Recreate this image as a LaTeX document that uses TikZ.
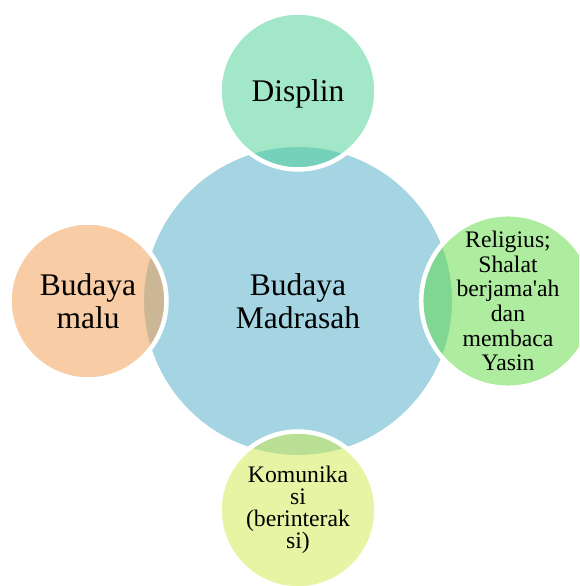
\documentclass[tikz,border=0pt]{standalone}
\usepackage{fontspec}
\setmainfont{Liberation Serif}[Ligatures=TeXOff]
\definecolor{hubblue}{RGB}{165,213,226}
\definecolor{topc}{RGB}{71,207,147}
\definecolor{leftc}{RGB}{241,153,73}
\definecolor{rightc}{RGB}{93,217,65}
\definecolor{botc}{RGB}{205,233,73}
\begin{document}
\begin{tikzpicture}[x=1pt,y=1pt,
  hub/.style={circle, minimum size=312pt, inner sep=0pt, fill=hubblue, draw=white, line width=4pt, align=center},
  sat/.style={circle, minimum size=157pt, inner sep=0pt, draw=white, line width=4.5pt, fill opacity=0.5, draw opacity=1, text opacity=1, align=center},
  big/.style={font=\fontsize{31.5}{33}\selectfont},
  small/.style={font=\fontsize{23.7}{24.6}\selectfont},
  tight/.style={font=\fontsize{23.7}{21.8}\selectfont}]
\useasboundingbox (0,0) rectangle (579,586);
\clip (0,0) rectangle (579,586);
\node[hub, big] (hub) at (298,285) {Budaya\\Madrasah};
\node[sat, big, fill=topc] (top) at (298,495) {\raisebox{-11pt}[0pt][0pt]{Displin}};
\node[sat, big, fill=leftc] (left) at (88,285) {Budaya\\malu};
\node[sat, small, fill=rightc] (right) at (508,285) {Religius;\\Shalat\\berjama'ah\\dan\\membaca\\Yasin};
\node[sat, tight, fill=botc] (bottom) at (298,76) {Komunika\\si\\(berinterak\\si)};
\end{tikzpicture}
\end{document}
